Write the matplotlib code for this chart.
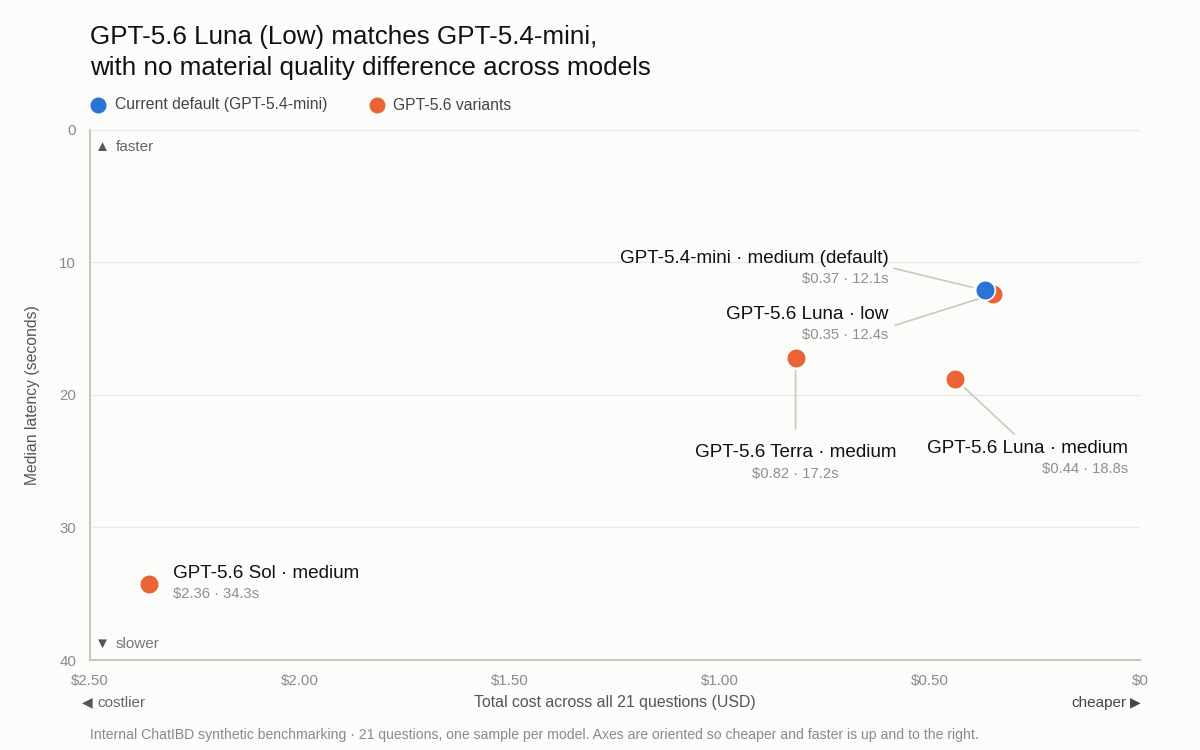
import matplotlib.pyplot as plt
from matplotlib.lines import Line2D

plt.rcParams['font.family'] = ['Liberation Sans', 'DejaVu Sans']

# data
models = ['GPT-5.4-mini · medium (default)', 'GPT-5.6 Luna · low', 'GPT-5.6 Terra · medium',
          'GPT-5.6 Luna · medium', 'GPT-5.6 Sol · medium']
groups = ['default', 'variant', 'variant', 'variant', 'variant']
costs = [0.37, 0.35, 0.82, 0.44, 2.36]
latency = [12.1, 12.4, 17.2, 18.8, 34.3]
x_ticks = [2.5, 2.0, 1.5, 1.0, 0.5, 0.0]
x_ticklabels = ['$2.50', '$2.00', '$1.50', '$1.00', '$0.50', '$0']
y_ticks = [0, 10, 20, 30, 40]

BLUE = '#2b74d6'
ORANGE = '#ea6535'
BG = '#fcfcfb'
LINE = '#c9c9c1'

fig = plt.figure(figsize=(12, 7.5), dpi=100, facecolor=BG)
ax = fig.add_axes([0.075, 0.12, 0.875, 0.7067], facecolor=BG)

ax.set_xlim(2.5, 0)
ax.set_ylim(40, 0)
ax.set_xticks(x_ticks)
ax.set_xticklabels(x_ticklabels)
ax.set_yticks(y_ticks)
ax.tick_params(length=0, labelsize=10.8, labelcolor='#8a8a8a', pad=10)
ax.grid(axis='y', color='#e8e8e4', lw=1)
ax.set_axisbelow(True)
for s in ['top', 'right']:
    ax.spines[s].set_visible(False)
for s in ['left', 'bottom']:
    ax.spines[s].set_color(LINE)
    ax.spines[s].set_linewidth(1.5)

# points: orange first, blue on top
for g, col, z in [('variant', ORANGE, 3), ('default', BLUE, 4)]:
    xs = [c for c, gg in zip(costs, groups) if gg == g]
    ys = [l for l, gg in zip(latency, groups) if gg == g]
    ax.scatter(xs, ys, s=200, color=col, edgecolor='white', linewidth=1.2, zorder=z)

# label placement in pixels: line end offset, label offset, alignment
line_off = [(-91, 22), (-98, -31), (0, -71), (59, -55), None]
lab_off = [(-96, 32), (-105, -20), (0, -95), (173, -69), (24, 11)]
aligns = ['right', 'right', 'center', 'right', 'left']

for i, name in enumerate(models):
    pt = (costs[i], latency[i])
    if line_off[i] is not None:
        ax.annotate('', xy=pt, xytext=line_off[i], textcoords='offset pixels',
                    arrowprops=dict(arrowstyle='-', color=LINE, lw=1.2,
                                    shrinkA=0, shrinkB=9), zorder=2)
    dx, dy = lab_off[i]
    ax.annotate(name, xy=pt, xytext=(dx, dy), textcoords='offset pixels',
                ha=aligns[i], va='center', fontsize=13.6, color='#111111')
    ax.annotate(f'${costs[i]:.2f} · {latency[i]:.1f}s', xy=pt, xytext=(dx, dy - 21),
                textcoords='offset pixels', ha=aligns[i], va='center',
                fontsize=10.6, color='#8f8f8f')

# direction hints
ax.text(0.005, 0.968, '▲', transform=ax.transAxes, fontsize=11, color='#555555', va='center')
ax.text(0.0245, 0.968, 'faster', transform=ax.transAxes, fontsize=11, color='#666666', va='center')
ax.text(0.005, 0.03, '▼', transform=ax.transAxes, fontsize=11, color='#555555', va='center')
ax.text(0.0245, 0.03, 'slower', transform=ax.transAxes, fontsize=11, color='#777777', va='center')

ax.set_ylabel('Median latency (seconds)', fontsize=11.3, color='#555555', labelpad=14)
fig.text(615 / 1200, 1 - 703 / 750, 'Total cost across all 21 questions (USD)',
         ha='center', va='center', fontsize=11.4, color='#555555')
fig.text(82 / 1200, 1 - 702 / 750, '◀', ha='left', va='center', fontsize=10, color='#555555')
fig.text(97 / 1200, 1 - 703 / 750, 'costlier', ha='left', va='center',
         fontsize=11, color='#666666')
fig.text(1141 / 1200, 1 - 702 / 750, '▶', ha='right', va='center', fontsize=10, color='#444444')
fig.text(1127 / 1200, 1 - 703 / 750, 'cheaper', ha='right', va='center',
         fontsize=11, color='#444444')

fig.text(90 / 1200, 1 - 735 / 750,
         'Internal ChatIBD synthetic benchmarking · 21 questions, one sample per model. '
         'Axes are oriented so cheaper and faster is up and to the right.',
         ha='left', va='center', fontsize=10.1, color='#8a8a8a')

# title
fig.text(90 / 1200, 1 - 25 / 750,
         'GPT-5.6 Luna (Low) matches GPT-5.4-mini,\nwith no material quality difference across models',
         ha='left', va='top', fontsize=18.7, color='#111111', linespacing=1.35)

# legend
for x, col in [(98, BLUE), (377, ORANGE)]:
    fig.add_artist(Line2D([x / 1200], [1 - 105 / 750], marker='o', markersize=10.5,
                          color=col, linestyle='none', transform=fig.transFigure))
fig.text(115 / 1200, 1 - 105 / 750, 'Current default (GPT-5.4-mini)', ha='left', va='center',
         fontsize=11.3, color='#444444')
fig.text(393 / 1200, 1 - 105 / 750, 'GPT-5.6 variants', ha='left', va='center',
         fontsize=11.3, color='#444444')

fig.savefig('out.png', dpi=100, facecolor=BG)
